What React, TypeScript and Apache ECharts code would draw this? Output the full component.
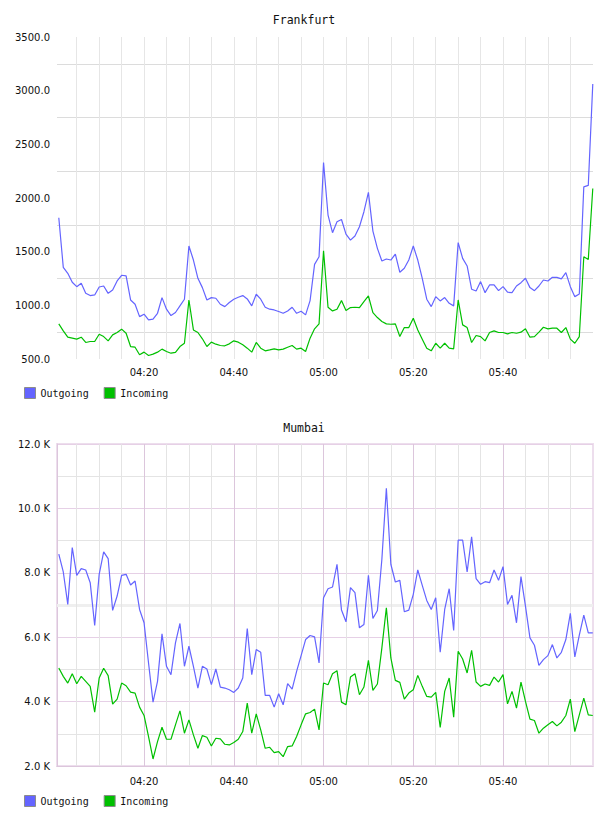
import React, { useEffect, useRef } from "react";
import * as echarts from "echarts";

// minutes after 04:00
const TIME_LABELS = [20, 40, 60, 80, 100];
const GRID_MINUTES = [5, 10, 15, 20, 25, 30, 35, 40, 45, 50, 55, 60, 65, 70, 75, 80, 85, 90, 95, 100, 105, 110, 115];
const SERIES_NAMES = ["Outgoing", "Incoming"];

const FRA_OUT = [
  1816, 1354, 1298, 1215, 1174, 1205, 1112, 1091, 1097, 1171,
  1180, 1112, 1143, 1227, 1280, 1274, 1050, 1010, 895, 917,
  864, 871, 926, 1072, 964, 905, 933, 995, 1057, 1553,
  1422, 1252, 1165, 1050, 1072, 1066, 1010, 988, 1026, 1057,
  1075, 1091, 1060, 995, 1103, 1057, 982, 964, 957, 942,
  926, 948, 982, 926, 945, 911, 1044, 1382, 1453, 2331,
  1841, 1677, 1779, 1800, 1664, 1608, 1646, 1732, 1872, 2052,
  1692, 1531, 1413, 1432, 1422, 1478, 1308, 1345, 1422, 1553,
  1422, 1252, 1057, 988, 1081, 1041, 1072, 1019, 995, 1584,
  1438, 1367, 1150, 1134, 1221, 1118, 1190, 1190, 1137, 1174,
  1122, 1118, 1180, 1211, 1252, 1165, 1137, 1180, 1236, 1227,
  1261, 1261, 1246, 1305, 1174, 1081, 1106, 2104, 2117, 3062,
];

const FRA_IN = [
  827, 762, 703, 694, 685, 703, 654, 663, 663, 731,
  709, 669, 725, 747, 778, 740, 616, 610, 539, 564,
  533, 545, 564, 592, 570, 554, 561, 616, 647, 1050,
  771, 747, 688, 616, 657, 638, 626, 623, 641, 669,
  657, 632, 601, 564, 654, 601, 576, 585, 595, 585,
  592, 610, 626, 592, 601, 570, 694, 781, 827, 1509,
  982, 948, 964, 1044, 951, 979, 982, 979, 1035, 1087,
  932, 886, 849, 827, 824, 827, 709, 793, 793, 880,
  771, 685, 601, 576, 647, 601, 647, 601, 595, 1050,
  818, 793, 654, 719, 709, 669, 747, 762, 747, 747,
  734, 747, 740, 750, 781, 703, 709, 750, 796, 781,
  787, 787, 747, 793, 685, 647, 709, 1453, 1428, 2089,
];

const MUM_OUT = [
  8577, 8026, 7018, 8784, 7922, 8130, 8088, 7693, 6363, 7953,
  8649, 8442, 6831, 7278, 7922, 7953, 7621, 7745, 6862, 6447,
  5200, 3984, 4629, 6104, 5096, 4836, 5823, 6426, 5096, 5719,
  5096, 4421, 5096, 5013, 4525, 5013, 4452, 4421, 4369, 4286,
  4421, 4732, 6270, 4836, 5615, 5532, 4192, 4192, 3828, 4244,
  3901, 4556, 4390, 4940, 5428, 5927, 6052, 6010, 5200, 7226,
  7506, 7558, 8265, 6842, 6478, 7538, 7382, 6291, 6395, 7922,
  6582, 6831, 8421, 10623, 8265, 7714, 7766, 6790, 6842, 7330,
  8088, 7610, 7143, 6862, 7226, 5532, 6862, 7506, 6208, 9013,
  9013, 8026, 9117, 7818, 7641, 7725, 7693, 8088, 7766, 8192,
  7018, 7299, 6447, 7880, 6966, 5979, 5750, 5127, 5304, 5428,
  5771, 5356, 5532, 5927, 6738, 5387, 6062, 6686, 6135, 6135,
];

const MUM_IN = [
  5044, 4784, 4576, 4867, 4556, 4784, 4629, 4473, 3673, 4732,
  5034, 4805, 3922, 4078, 4576, 4493, 4296, 4265, 3828, 3569,
  2914, 2218, 2758, 3205, 2831, 2831, 3278, 3714, 3018, 3434,
  2966, 2550, 2945, 2893, 2623, 2862, 2841, 2675, 2654, 2727,
  2831, 3070, 3953, 3018, 3621, 3122, 2550, 2582, 2415, 2446,
  2291, 2602, 2623, 2914, 3278, 3621, 3662, 3766, 3122, 4576,
  4525, 4867, 4961, 3984, 3901, 4763, 4867, 4213, 4452, 5283,
  4348, 4546, 5667, 6914, 5356, 4660, 4597, 4078, 4265, 4369,
  4815, 4473, 4161, 4140, 4286, 3195, 4317, 4732, 3517, 5563,
  5324, 4888, 5595, 4607, 4473, 4546, 4504, 4763, 4607, 4836,
  3932, 4317, 3797, 4607, 4005, 3455, 3413, 3018, 3174, 3278,
  3382, 3247, 3361, 3569, 4078, 3070, 3590, 4109, 3590, 3569,
];

const OUT_COLOR = "#6464ff";
const IN_COLOR = "#00c000";
const SANS = "'DejaVu Sans', sans-serif";
const MONO = "'DejaVu Sans Mono', monospace";
const X_MIN = 0.6;
const X_MAX = 120.05;

function fmtTime(t: number): string {
  const h = 4 + Math.floor(t / 60);
  const m = Math.round(t % 60);
  return String(h).padStart(2, "0") + ":" + String(m).padStart(2, "0");
}

const toPts = (arr: number[]) => arr.map((v, i) => [i + 1, v]);

function buildOption() {
  const xAxisBase = (gridIndex: number, axisColor: string | null, margin: number) => ({
    type: "value",
    gridIndex,
    min: X_MIN,
    max: X_MAX,
    axisLine: axisColor ? { show: true, lineStyle: { color: axisColor, width: 1 } } : { show: false },
    axisTick: { show: false },
    splitLine: { show: false },
    axisLabel: {
      customValues: TIME_LABELS,
      formatter: (v: number) => fmtTime(v),
      fontFamily: SANS,
      fontSize: 10,
      color: "#111",
      margin,
    },
  });

  const lineSeries = (name: string, data: number[], color: string, idx: number) => ({
    name,
    type: "line",
    xAxisIndex: idx,
    yAxisIndex: idx,
    data: toPts(data),
    showSymbol: false,
    symbol: "none",
    color,
    lineStyle: { color, width: 1.2 },
    itemStyle: { color },
    z: 3,
    emphasis: { disabled: true },
  });

  const gridLinesSeries = (idx: number, lines: any[]) => ({
    type: "line",
    xAxisIndex: idx,
    yAxisIndex: idx,
    data: [],
    z: 1,
    silent: true,
    markLine: {
      silent: true,
      z: 1,
      symbol: ["none", "none"],
      label: { show: false },
      emphasis: { disabled: true },
      animation: false,
      data: lines,
    },
  });

  const fraVLines = GRID_MINUTES.map((t) => ({
    xAxis: t,
    lineStyle: { color: "#e6e6e6", width: 1, type: "solid" },
  }));
  const mumVLines: any[] = [
    { yAxis: 7000, lineStyle: { color: "#efefef", width: 3, type: "solid" } },
    ...GRID_MINUTES.map((t) => ({
      xAxis: t,
      lineStyle: { color: t % 20 === 0 ? "#dcc6dc" : "#e4e4e4", width: 1, type: "solid" },
    })),
  ];

  const legendBase = (top: number) => ({
    left: 24,
    top,
    padding: 0,
    itemWidth: 11,
    itemHeight: 11,
    itemGap: 15,
    icon: "rect",
    data: SERIES_NAMES,
    selectedMode: false,
    itemStyle: { borderColor: "#8c8c8c", borderWidth: 1 },
    textStyle: { fontFamily: MONO, fontSize: 10, color: "#111" },
  });

  return {
    animation: false,
    backgroundColor: "#ffffff",
    title: [
      {
        text: "Frankfurt",
        left: "center",
        top: 14,
        padding: 0,
        textStyle: { fontFamily: MONO, fontSize: 11.5, fontWeight: "normal", color: "#111" },
      },
      {
        text: "Mumbai",
        left: "center",
        top: 422,
        padding: 0,
        textStyle: { fontFamily: MONO, fontSize: 11.5, fontWeight: "normal", color: "#111" },
      },
    ],
    legend: [legendBase(387), legendBase(795)],
    grid: [
      { left: 57, top: 37, width: 536, height: 322, containLabel: false, show: false },
      {
        left: 57,
        top: 444,
        width: 536,
        height: 322,
        containLabel: false,
        show: true,
        borderColor: "#eddeed",
        borderWidth: 2,
        backgroundColor: "transparent",
      },
    ],
    xAxis: [xAxisBase(0, null, 8), xAxisBase(1, "#dcc6dc", 10)],
    yAxis: [
      {
        type: "value",
        gridIndex: 0,
        min: 500,
        max: 3500,
        interval: 500,
        axisLine: { show: false },
        axisTick: { show: false },
        splitLine: { show: false },
        minorTick: { show: false, splitNumber: 2 },
        minorSplitLine: { show: true, lineStyle: { color: "#dcdcdc", width: 1 } },
        axisLabel: {
          formatter: (v: number) => v.toFixed(1),
          fontFamily: SANS,
          fontSize: 10,
          color: "#111",
          margin: 7,
        },
      },
      {
        type: "value",
        gridIndex: 1,
        min: 2000,
        max: 12000,
        interval: 2000,
        axisLine: { show: true, lineStyle: { color: "#dcc6dc", width: 1 } },
        axisTick: { show: false },
        splitLine: { show: true, lineStyle: { color: "#e6d0e6", width: 1 } },
        minorTick: { show: false, splitNumber: 2 },
        minorSplitLine: { show: true, lineStyle: { color: "#e4e4e4", width: 1 } },
        axisLabel: {
          formatter: (v: number) => (v / 1000).toFixed(1) + " K",
          fontFamily: SANS,
          fontSize: 10,
          color: "#111",
          margin: 7,
        },
      },
    ],
    series: [
      gridLinesSeries(0, fraVLines),
      gridLinesSeries(1, mumVLines),
      lineSeries("Outgoing", FRA_OUT, OUT_COLOR, 0),
      lineSeries("Incoming", FRA_IN, IN_COLOR, 0),
      lineSeries("Outgoing", MUM_OUT, OUT_COLOR, 1),
      lineSeries("Incoming", MUM_IN, IN_COLOR, 1),
    ],
  };
}

export default function App() {
  const ref = useRef<HTMLDivElement>(null);
  useEffect(() => {
    if (!ref.current) return;
    const chart = echarts.init(ref.current, null, { renderer: "svg" });
    chart.setOption(buildOption() as any);
    return () => chart.dispose();
  }, []);
  return (
    <div
      ref={ref}
      style={{ position: "fixed", left: 0, top: 0, width: 608, height: 816, background: "#fff" }}
    />
  );
}
